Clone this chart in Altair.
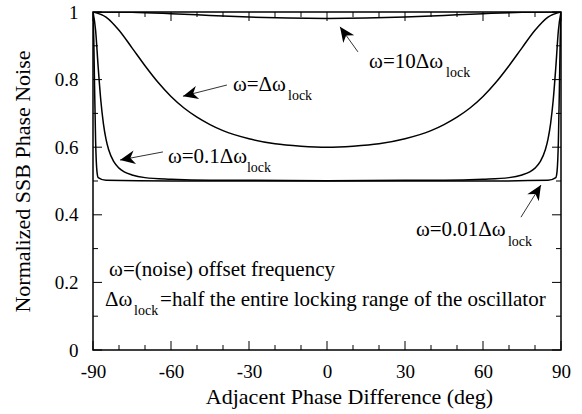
import math
import altair as alt
import pandas as pd

# ---------------- data ----------------
phase_1x = [-90, -85, -80, -75, -70, -65, -60, -55, -50, -45, -40, -30, -20, -10, 0,
            10, 20, 30, 40, 45, 50, 55, 60, 65, 70, 75, 80, 85, 90]
noise_1x = [1.0, 0.985, 0.946, 0.894, 0.841, 0.792, 0.750, 0.716, 0.689, 0.667, 0.649, 0.625, 0.610, 0.603, 0.600,
            0.603, 0.610, 0.625, 0.649, 0.667, 0.689, 0.716, 0.750, 0.792, 0.841, 0.894, 0.946, 0.985, 1.0]

phase_10x = [-90, -75, -60, -45, -30, -15, 0, 15, 30, 45, 60, 75, 90]
noise_10x = [1.0, 0.999, 0.995, 0.990, 0.985, 0.982, 0.981, 0.982, 0.985, 0.990, 0.995, 0.999, 1.0]

phase_01x = [-90, -89, -88, -87, -86, -85, -84, -82, -80, -78, -75, -70, -60, -45, -30, 0,
             30, 45, 60, 70, 75, 78, 80, 82, 84, 85, 86, 87, 88, 89, 90]
noise_01x = [1.0, 0.946, 0.836, 0.739, 0.670, 0.624, 0.593, 0.557, 0.538, 0.527, 0.518, 0.510, 0.505, 0.502, 0.502, 0.501,
             0.502, 0.502, 0.505, 0.510, 0.518, 0.527, 0.538, 0.557, 0.593, 0.624, 0.670, 0.739, 0.836, 0.946, 1.0]

phase_001x = [-90, -89.7, -89.4, -89, -88.5, -88, -85, -60, 0, 60, 85, 88, 88.5, 89, 89.4, 89.7, 90]
noise_001x = [1.0, 0.92, 0.78, 0.62, 0.53, 0.51, 0.502, 0.5, 0.5, 0.5, 0.502, 0.51, 0.53, 0.62, 0.78, 0.92, 1.0]

x_major = [-90, -60, -30, 0, 30, 60, 90]
x_minor = [-80, -70, -50, -40, -20, -10, 10, 20, 40, 50, 70, 80]
y_major = [0, 0.2, 0.4, 0.6, 0.8, 1.0]
y_minor = [0.1, 0.3, 0.5, 0.7, 0.9]

# annotation labels (data coordinates)
ann_text = ["ω=10Δω", "lock", "ω=Δω", "lock", "ω=0.1Δω", "lock", "ω=0.01Δω", "lock",
            "ω=(noise) offset frequency", "Δω", "lock", "=half the entire locking range of the oscillator"]
ann_x = [16.2, 45.8, -36.2, -15.0, -61.2, -30.8, 34.2, 69.6, -83.8, -85.4, -74.2, -64.2]
ann_y = [0.852, 0.820, 0.784, 0.752, 0.571, 0.539, 0.355, 0.320, 0.237, 0.148, 0.114, 0.148]
ann_sub = [0, 1, 0, 1, 0, 1, 0, 1, 0, 0, 1, 0]

# arrows: tail -> tip (data coordinates)
arr_x1 = [11.9, -38.5, -63.1, 74.6]
arr_y1 = [0.882, 0.784, 0.586, 0.393]
arr_x2 = [5.0, -55.4, -79.6, 82.3]
arr_y2 = [0.956, 0.751, 0.562, 0.488]

# ---------------- layout ----------------
W, H = 468, 338
FONT = "Liberation Serif"
xs = alt.Scale(domain=[-90, 90], nice=False, zero=False)
ys = alt.Scale(domain=[0, 1], nice=False, zero=False)

x_axis = alt.Axis(
    values=x_major, ticks=False, tickSize=0, domain=False, grid=False, labelFlush=False,
    labelExpr="datum.value < 0 ? '-' + (-datum.value) : '' + datum.value",
    labelFont=FONT, labelFontSize=19, labelColor="black", labelPadding=12,
    title="Adjacent Phase Difference (deg)", titleFont=FONT, titleFontSize=22,
    titleFontWeight="normal", titleColor="black", titleX=256, titleY=46,
    titleAlign="center", titleBaseline="middle")
y_axis = alt.Axis(
    values=y_major, ticks=False, tickSize=0, domain=False, grid=False, labelFlush=False,
    format=".1~f",
    labelFont=FONT, labelFontSize=19, labelColor="black", labelPadding=15,
    title="Normalized SSB Phase Noise", titleFont=FONT, titleFontSize=22,
    titleFontWeight="normal", titleColor="black", titleX=-71, titleY=H / 2,
    titleAngle=270, titleAlign="center", titleBaseline="middle")

rows = []
for name, px, nv in [("10x", phase_10x, noise_10x), ("1x", phase_1x, noise_1x),
                     ("0.1x", phase_01x, noise_01x), ("0.01x", phase_001x, noise_001x)]:
    for p, n in zip(px, nv):
        rows.append({"curve": name, "phase": p, "noise": n})
curves_df = pd.DataFrame(rows)

curves = alt.Chart(curves_df).mark_line(
    color="black", strokeWidth=1.5, interpolate="monotone", clip=True
).encode(
    x=alt.X("phase:Q", scale=xs, axis=x_axis),
    y=alt.Y("noise:Q", scale=ys, axis=y_axis),
    detail="curve:N",
)

# inward ticks on all four sides
tick_rows = []
for vals, L in [(x_major, 9), (x_minor, 5)]:
    for v in vals:
        tick_rows.append({"phase": v, "x2": v, "noise": 0, "y2": L / H})
        tick_rows.append({"phase": v, "x2": v, "noise": 1, "y2": 1 - L / H})
for vals, L in [(y_major, 9), (y_minor, 5)]:
    for v in vals:
        tick_rows.append({"phase": -90, "x2": -90 + L * 180 / W, "noise": v, "y2": v})
        tick_rows.append({"phase": 90, "x2": 90 - L * 180 / W, "noise": v, "y2": v})
ticks = alt.Chart(pd.DataFrame(tick_rows)).mark_rule(color="black", strokeWidth=1).encode(
    x=alt.X("phase:Q", scale=xs, axis=x_axis), x2="x2:Q",
    y=alt.Y("noise:Q", scale=ys, axis=y_axis), y2="y2:Q",
)

# arrows
arr_rows = []
for a, b, c, d in zip(arr_x1, arr_y1, arr_x2, arr_y2):
    dxp = (c - a) * W / 180
    dyp = -(d - b) * H
    ang = math.degrees(math.atan2(dxp, -dyp)) % 360
    arr_rows.append({"phase": a, "noise": b, "x2": c, "y2": d, "ang": ang})
arr_df = pd.DataFrame(arr_rows)
shafts = alt.Chart(arr_df).mark_rule(color="#333333", strokeWidth=1).encode(
    x=alt.X("phase:Q", scale=xs, axis=x_axis), x2="x2:Q",
    y=alt.Y("noise:Q", scale=ys, axis=y_axis), y2="y2:Q",
)
heads = alt.Chart(arr_df).mark_point(
    shape="M0,0L-0.45,1L0,0.7L0.45,1Z", filled=True, color="black", opacity=1, size=900
).encode(
    x=alt.X("x2:Q", scale=xs, axis=x_axis),
    y=alt.Y("y2:Q", scale=ys, axis=y_axis),
    angle=alt.Angle("ang:Q", scale=None),
)

ann_df = pd.DataFrame({"t": ann_text, "phase": ann_x, "noise": ann_y,
                       "fs": [14 if s else 21 for s in ann_sub]})
texts = alt.Chart(ann_df).mark_text(
    align="left", baseline="middle", font=FONT, color="black"
).encode(
    x=alt.X("phase:Q", scale=xs, axis=x_axis),
    y=alt.Y("noise:Q", scale=ys, axis=y_axis),
    text="t:N",
    size=alt.Size("fs:Q", scale=None),
)

chart = alt.layer(curves, ticks, shafts, heads, texts).properties(
    width=W, height=H,
    autosize=alt.AutoSizeParams(type="none"),
    padding={"left": 93, "top": 12, "right": 21, "bottom": 64},
    background="white",
).configure(font=FONT).configure_axis(
    labelFont=FONT, titleFont=FONT, labelColor="black", titleColor="black"
).configure_view(stroke="black", strokeWidth=1.5)

chart.save("out.html", embed_options={"renderer": "svg", "actions": False})
